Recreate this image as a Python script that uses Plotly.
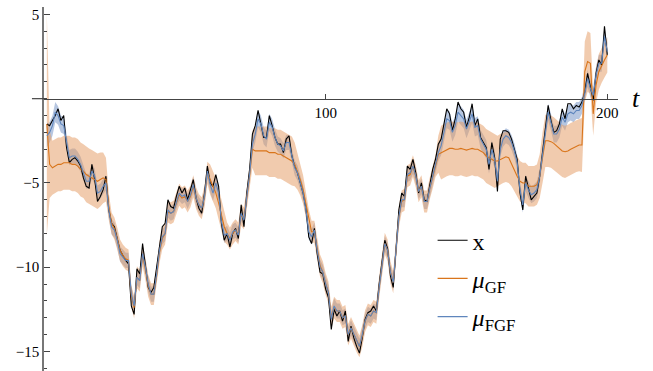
import plotly.graph_objects as go

t = list(range(1, 201))

x_obs = [
 -1.5, -1.6, -1.3, -1.0, -0.6, -1.3, -1.0, -2.9, -3.8, -3.6,
 -3.5, -3.7, -4.0, -4.7, -5.2, -5.3, -3.9, -4.8, -6.1, -5.8,
 -5.4, -4.6, -6.6, -7.4, -7.6, -8.3, -9.0, -9.3, -9.6, -9.8,
 -12.3, -12.8, -10.1, -10.4, -8.6, -9.9, -11.2, -11.5, -11.2, -10.0,
 -8.8, -7.6, -7.4, -6.0, -6.4, -6.5, -5.8, -5.2, -5.6, -5.3,
 -6.0, -5.4, -4.8, -5.9, -6.5, -6.8, -5.6, -4.0, -5.0, -5.2,
 -4.5, -5.2, -7.4, -8.4, -8.0, -8.8, -8.0, -7.7, -8.3, -6.3,
 -7.6, -5.6, -4.2, -2.1, -1.6, -0.7, -1.5, -2.3, -2.3, -1.0,
 -1.6, -2.3, -2.7, -2.7, -3.2, -2.4, -2.2, -3.4, -4.0, -4.4,
 -5.0, -5.6, -6.5, -8.2, -8.6, -7.7, -9.2, -10.3, -10.4, -11.3,
 -11.8, -13.7, -12.5, -12.9, -12.6, -13.2, -12.6, -14.4, -13.5, -14.2,
 -14.7, -15.1, -14.2, -13.1, -12.7, -12.6, -12.3, -12.6, -11.0, -9.6,
 -8.4, -8.9, -10.5, -11.2, -8.8, -6.6, -5.6, -5.8, -4.0, -4.2,
 -3.6, -4.4, -5.6, -5.0, -6.0, -6.1, -5.1, -4.2, -3.6, -2.7,
 -2.4, -1.6, -0.6, -0.9, -1.9, -1.2, -0.2, -0.6, -0.8, -1.7,
 -1.1, -0.3, -1.6, -1.2, -2.3, -2.6, -2.9, -4.2, -2.6, -3.5,
 -5.5, -2.4, -1.9, -1.9, -2.0, -2.4, -3.0, -3.6, -5.6, -6.6,
 -4.6, -5.4, -6.0, -5.8, -5.6, -4.6, -3.3, -1.7, -0.4, -1.3,
 -2.0, -1.9, -1.5, -0.6, -1.2, -0.3, -0.3, -0.6, -0.4, -0.5,
 -0.2, 0.4, 1.5, 0.7, -0.1, 1.5, 2.3, 2.0, 4.3, 2.6,
]

mu_fgf = [
 -2.2, -2.0, -1.6, -0.8, -1.0, -1.5, -1.6, -2.6, -3.5, -3.4,
 -3.4, -3.6, -3.9, -4.4, -4.9, -4.9, -4.3, -4.6, -5.6, -5.5,
 -5.2, -5.0, -6.6, -7.6, -7.8, -8.4, -9.2, -9.4, -9.6, -9.6,
 -11.6, -12.3, -10.6, -10.8, -9.2, -10.0, -11.0, -11.6, -11.6, -10.4,
 -9.0, -8.2, -8.0, -6.6, -6.8, -6.7, -6.1, -5.6, -5.8, -5.7,
 -6.1, -5.7, -5.1, -5.9, -6.3, -6.5, -5.8, -4.3, -5.1, -5.6,
 -5.0, -5.6, -7.3, -8.1, -8.0, -8.4, -7.9, -7.8, -8.1, -6.8,
 -7.2, -5.9, -4.5, -2.7, -2.1, -1.2, -1.5, -2.2, -2.4, -1.4,
 -1.7, -2.3, -2.7, -2.8, -3.1, -2.6, -2.6, -3.4, -4.1, -4.4,
 -5.0, -5.6, -6.6, -7.9, -8.2, -7.8, -9.0, -10.0, -10.3, -11.0,
 -11.5, -13.1, -12.3, -12.6, -12.6, -13.0, -12.9, -14.0, -13.6, -14.0,
 -14.4, -14.7, -14.0, -13.2, -12.8, -12.9, -12.6, -12.7, -11.2, -9.8,
 -8.6, -9.0, -10.3, -10.9, -8.9, -7.0, -6.0, -6.0, -4.5, -4.4,
 -4.0, -4.6, -5.5, -5.2, -6.1, -6.1, -5.3, -4.6, -4.0, -3.2,
 -2.8, -2.0, -1.2, -1.3, -2.0, -1.6, -0.8, -1.0, -1.2, -1.8,
 -1.4, -0.9, -1.7, -1.6, -2.4, -2.7, -3.0, -3.9, -3.0, -3.6,
 -4.9, -3.0, -2.4, -2.2, -2.3, -2.6, -3.1, -3.8, -5.4, -6.3,
 -5.0, -5.4, -5.7, -5.6, -5.4, -4.6, -3.4, -1.9, -0.8, -1.4,
 -2.1, -2.1, -1.8, -1.1, -1.4, -0.9, -0.8, -0.9, -0.7, -0.7,
 -0.4, 0.3, 1.2, 0.6, 0.2, 1.4, 2.1, 2.1, 3.7, 2.8,
]

mu_gf = [
 -1.5, -3.9, -4.1, -4.0, -3.9, -3.9, -3.8, -3.8, -3.8, -3.9,
 -3.9, -4.0, -4.2, -4.3, -4.5, -4.6, -4.7, -4.8, -4.9, -4.8,
 -4.7, -4.8, -6.4, -7.4, -7.7, -8.3, -9.0, -9.3, -9.5, -9.6,
 -11.7, -12.4, -10.6, -10.8, -9.3, -10.1, -11.1, -11.6, -11.6, -10.5,
 -9.1, -8.3, -8.0, -6.7, -6.8, -6.7, -6.2, -5.7, -5.9, -5.8,
 -6.1, -5.8, -5.2, -5.9, -6.3, -6.5, -5.8, -4.4, -4.8, -5.2,
 -5.6, -6.2, -6.9, -7.6, -8.0, -8.3, -8.0, -7.8, -8.0, -6.9,
 -7.1, -5.9, -4.6, -3.0, -3.1, -3.1, -3.1, -3.1, -3.1, -3.2,
 -3.2, -3.2, -3.3, -3.3, -3.4, -3.5, -3.6, -3.7, -3.9, -4.3,
 -4.8, -5.4, -6.3, -7.2, -7.9, -7.9, -8.9, -9.9, -10.3, -11.0,
 -11.5, -13.0, -12.4, -12.6, -12.6, -13.0, -12.9, -14.0, -13.6, -14.0,
 -14.4, -14.7, -14.1, -13.2, -12.8, -12.9, -12.6, -12.7, -11.2, -9.8,
 -8.6, -9.0, -10.3, -10.9, -9.0, -7.0, -6.1, -6.0, -4.6, -4.5,
 -4.0, -4.6, -5.5, -5.2, -6.1, -6.1, -5.3, -4.7, -4.0, -3.3,
 -3.2, -3.1, -3.0, -2.95, -2.95, -3.0, -3.0, -2.95, -3.0, -3.05,
 -3.0, -2.95, -3.0, -3.0, -3.1, -3.2, -3.4, -3.5, -3.6, -3.7,
 -3.7, -3.6, -3.5, -3.45, -3.5, -3.9, -4.3, -4.6, -4.9, -5.0,
 -5.0, -5.2, -5.2, -5.2, -5.1, -4.6, -3.5, -2.5, -2.5, -2.55,
 -2.65, -2.8, -2.95, -3.1, -3.15, -3.1, -3.0, -2.9, -2.8, -2.75,
 -2.75, 1.6, 2.2, 2.1, -0.9, 0.8, 1.6, 2.0, 2.3, 2.6,
]

gf_sd = [
 6.6, 2.0, 1.6, 1.6, 1.6, 1.6, 1.6, 1.6, 1.6, 1.6,
 1.6, 1.6, 1.6, 1.6, 1.65, 1.65, 1.65, 1.65, 1.65, 1.6,
 1.5, 1.3, 0.8, 0.65, 0.65, 0.65, 0.65, 0.65, 0.65, 0.65,
 0.65, 0.65, 0.65, 0.65, 0.65, 0.65, 0.65, 0.65, 0.65, 0.65,
 0.65, 0.65, 0.65, 0.65, 0.65, 0.65, 0.65, 0.65, 0.65, 0.65,
 0.65, 0.65, 0.65, 0.65, 0.65, 0.65, 0.65, 0.65, 0.9, 0.9,
 0.9, 0.9, 0.9, 0.9, 0.65, 0.65, 0.65, 0.65, 0.65, 0.65,
 0.65, 0.65, 0.65, 1.1, 1.45, 1.45, 1.45, 1.45, 1.45, 1.45,
 1.45, 1.45, 1.45, 1.45, 1.45, 1.45, 1.45, 1.45, 1.3, 1.1,
 0.95, 0.85, 0.75, 0.65, 0.65, 0.65, 0.65, 0.65, 0.65, 0.65,
 0.65, 0.65, 0.65, 0.65, 0.65, 0.65, 0.65, 0.65, 0.65, 0.65,
 0.65, 0.65, 0.65, 0.65, 0.65, 0.65, 0.65, 0.65, 0.65, 0.65,
 0.65, 0.65, 0.65, 0.65, 0.65, 0.65, 0.65, 0.65, 0.65, 0.65,
 0.65, 0.65, 0.65, 0.65, 0.65, 0.65, 0.65, 0.65, 0.65, 1.1,
 1.6, 1.6, 1.6, 1.6, 1.6, 1.6, 1.6, 1.6, 1.6, 1.6,
 1.6, 1.6, 1.6, 1.6, 1.6, 1.6, 1.6, 1.6, 1.6, 1.6,
 1.5, 1.5, 1.5, 1.5, 1.5, 1.3, 1.2, 1.2, 1.2, 1.2,
 1.2, 1.2, 1.2, 1.2, 1.2, 1.3, 1.5, 1.55, 1.55, 1.55,
 1.55, 1.55, 1.55, 1.55, 1.55, 1.55, 1.55, 1.55, 1.55, 1.55,
 1.6, 1.8, 1.8, 1.8, 1.3, 1.05, 1.05, 1.05, 1.05, 1.05,
]

fgf_sd = [
 0.7, 0.6, 0.6, 0.6, 0.55, 0.5, 0.5, 0.45, 0.45, 0.45,
 0.45, 0.45, 0.45, 0.45, 0.45, 0.45, 0.45, 0.45, 0.45, 0.45,
 0.45, 0.45, 0.45, 0.45, 0.45, 0.45, 0.45, 0.45, 0.45, 0.45,
 0.45, 0.45, 0.45, 0.45, 0.45, 0.45, 0.45, 0.45, 0.45, 0.45,
 0.45, 0.45, 0.45, 0.45, 0.45, 0.45, 0.45, 0.45, 0.45, 0.45,
 0.45, 0.45, 0.45, 0.45, 0.45, 0.45, 0.45, 0.45, 0.45, 0.45,
 0.45, 0.45, 0.45, 0.45, 0.45, 0.45, 0.45, 0.45, 0.45, 0.45,
 0.45, 0.45, 0.45, 0.5, 0.5, 0.5, 0.5, 0.5, 0.5, 0.5,
 0.5, 0.5, 0.45, 0.45, 0.45, 0.45, 0.45, 0.45, 0.45, 0.45,
 0.45, 0.45, 0.45, 0.45, 0.45, 0.45, 0.45, 0.45, 0.45, 0.45,
 0.45, 0.45, 0.45, 0.45, 0.45, 0.45, 0.45, 0.45, 0.45, 0.45,
 0.45, 0.45, 0.45, 0.45, 0.45, 0.45, 0.45, 0.45, 0.45, 0.45,
 0.45, 0.45, 0.45, 0.45, 0.45, 0.45, 0.45, 0.45, 0.45, 0.45,
 0.45, 0.45, 0.45, 0.45, 0.45, 0.45, 0.45, 0.45, 0.45, 0.5,
 0.55, 0.55, 0.55, 0.55, 0.55, 0.55, 0.55, 0.55, 0.55, 0.55,
 0.55, 0.55, 0.55, 0.55, 0.55, 0.55, 0.55, 0.55, 0.55, 0.55,
 0.5, 0.45, 0.45, 0.45, 0.45, 0.45, 0.45, 0.45, 0.45, 0.45,
 0.5, 0.5, 0.5, 0.5, 0.5, 0.5, 0.5, 0.5, 0.5, 0.5,
 0.5, 0.5, 0.5, 0.5, 0.5, 0.5, 0.5, 0.5, 0.5, 0.5,
 0.5, 0.5, 0.5, 0.5, 0.5, 0.5, 0.5, 0.5, 0.5, 0.5,
]

for name, arr in [("x", x_obs), ("fgf", mu_fgf), ("gf", mu_gf), ("gfsd", gf_sd), ("fgfsd", fgf_sd)]:
    if len(arr) != len(t):
        raise ValueError(f"{name} has {len(arr)} values")

y_ticks = [5, -5, -10, -15]
x_ticks = [100, 200]
Y_MIN, Y_MAX = -16.16, 5.44
X_MIN, X_MAX = 0, 203.8

BLACK = "#000000"
ORANGE = "#D9751B"
BLUE = "#5F86BD"

def band(mean, sd):
    up = [m + s for m, s in zip(mean, sd)]
    lo = [m - s for m, s in zip(mean, sd)]
    return t + t[::-1], up + lo[::-1]

fig = go.Figure()
bx, by = band(mu_fgf, fgf_sd)
fig.add_trace(go.Scatter(x=bx, y=by, fill="toself", fillcolor="rgba(80,120,180,0.42)",
                         line=dict(width=0), mode="lines", showlegend=False, hoverinfo="skip"))
bx, by = band(mu_gf, gf_sd)
fig.add_trace(go.Scatter(x=bx, y=by, fill="toself", fillcolor="rgba(228,155,100,0.52)",
                         line=dict(width=0), mode="lines", showlegend=False, hoverinfo="skip"))

fig.add_trace(go.Scatter(x=t, y=x_obs, mode="lines", name="x", legendgroup="a",
                         line=dict(color=BLACK, width=1.1)))
fig.add_trace(go.Scatter(x=t, y=mu_gf, mode="lines", name="<i>μ</i><sub>GF</sub>", legendgroup="b",
                         line=dict(color=ORANGE, width=1.1)))
fig.add_trace(go.Scatter(x=t, y=mu_fgf, mode="lines", name="<i>μ</i><sub>FGF</sub>", legendgroup="c",
                         line=dict(color=BLUE, width=1.1)))

font = "Liberation Serif"
y0_pos = (0 - Y_MIN) / (Y_MAX - Y_MIN)
fig.update_layout(
    width=653, height=371,
    margin=dict(l=44, r=35, t=7, b=0),
    paper_bgcolor="white", plot_bgcolor="white",
    font=dict(family=font, size=14, color="black"),
    showlegend=True,
    legend=dict(x=0.677, y=0.42, xanchor="left", yanchor="top",
                font=dict(family=font, size=24, color="black"),
                bgcolor="rgba(0,0,0,0)", tracegroupgap=4, itemwidth=30),
    xaxis=dict(range=[X_MIN, X_MAX], showgrid=False, zeroline=False,
               anchor="free", position=y0_pos,
               showline=True, linecolor="#444", linewidth=1.2,
               ticks="inside", ticklen=5, tickcolor="#444",
               tickvals=x_ticks, ticktext=[str(v) for v in x_ticks],
               tickfont=dict(family=font, size=15)),
    yaxis=dict(range=[Y_MIN, Y_MAX], showgrid=False, zeroline=False,
               showline=True, linecolor="#777", linewidth=1.5,
               ticks="inside", ticklen=6, tickcolor="#444",
               tickvals=y_ticks, ticktext=["5", "−5", "−10", "−15"],
               tickfont=dict(family=font, size=15),
               minor=dict(dtick=1, ticks="inside", ticklen=3.5, tickcolor="#444", showgrid=False)),
    shapes=[dict(type="line", xref="paper", yref="y", x0=-0.021, x1=0, y0=0, y1=0,
                 line=dict(color="#444", width=1.2))],
    annotations=[dict(text="<i>t</i>", x=1.0, xref="paper", xshift=18,
                      y=0, yref="y", showarrow=False, xanchor="center", yanchor="middle",
                      font=dict(family=font, size=26, color="black"))],
)

fig.write_html("out.html")
